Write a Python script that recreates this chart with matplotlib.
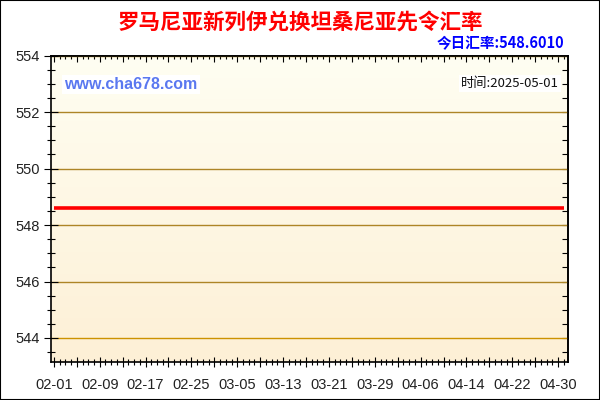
import numpy as np
import matplotlib
matplotlib.use('Agg')
import matplotlib.pyplot as plt
import matplotlib.dates as mdates
from matplotlib.patches import Rectangle

title = '罗马尼亚新列伊兑换坦桑尼亚先令汇率'
today_label = '今日汇率:548.6010'
time_label = '时间:2025-05-01'
site = 'www.cha678.com'

dates = ['2025-02-01', '2025-05-01']
rates = [548.6010, 548.6010]

tick_labels = ['02-01', '02-09', '02-17', '02-25', '03-05', '03-13',
               '03-21', '03-29', '04-06', '04-14', '04-22', '04-30']
y_ticks = [544, 546, 548, 550, 552, 554]

cjk = ['Noto Sans CJK SC', 'DejaVu Sans']
plt.rcParams['font.family'] = ['Liberation Sans', 'DejaVu Sans']

fig = plt.figure(figsize=(6, 4), dpi=100)
fig.patches.append(Rectangle((0, 0), 1, 1, transform=fig.transFigure,
                             fill=False, edgecolor='black', linewidth=1.5))
ax = fig.add_axes([0.0855, 0.095, 0.861, 0.766])

x = mdates.datestr2num(dates)
x0 = x[0]
xmin, xmax = x0 - 0.45, x0 + 89.7
ymin, ymax = 543.15, 554.0

# gradient background
grad = np.linspace(0, 1, 256).reshape(-1, 1)
top = np.array([255, 254, 242]) / 255
bot = np.array([253, 240, 214]) / 255
img = top + (bot - top) * grad[:, :, None]
ax.imshow(img, extent=[xmin, xmax, ymin, ymax], aspect='auto', origin='upper', zorder=0)

for yv in y_ticks:
    ax.axhline(yv, color='#ad8526' if yv != 544 else '#cc9200', lw=1, zorder=1)

ax.plot(x, rates, color='#ff0000', lw=2.6, zorder=3, solid_capstyle='butt')

ax.set_xlim(xmin, xmax)
ax.set_ylim(ymin, ymax)

# x ticks
major = [x0 + i for i in range(0, 90, 4)]
minor = [x0 + i for i in range(0, 90)]
lab_pos = list(mdates.datestr2num(['2025-' + t for t in tick_labels]))
ax.set_xticks(major)
ax.set_xticklabels([tick_labels[lab_pos.index(m)] if m in lab_pos else '' for m in major])
ax.set_xticks(minor, minor=True)
ax.set_yticks(y_ticks)
ax.set_yticks(np.arange(543.5, 554.01, 0.5), minor=True)

ax.tick_params(axis='x', which='major', direction='inout', length=7, width=0.8,
               labelsize=10.5, pad=8, labelcolor='#222222')
ax.tick_params(axis='x', which='minor', direction='inout', length=4, width=0.8)
ax.tick_params(axis='y', which='major', direction='inout', length=10, width=0.8,
               labelsize=10.5, pad=3, labelcolor='#222222')
ax.tick_params(axis='y', which='minor', direction='inout', length=6, width=0.8)

# inward ticks on top and right
topx = ax.secondary_xaxis('top')
topx.set_xticks(major)
topx.set_xticks(minor, minor=True)
topx.tick_params(which='major', direction='in', length=4, width=0.8, labeltop=False)
topx.tick_params(which='minor', direction='in', length=2, width=0.8)
rightx = ax.secondary_yaxis('right')
rightx.set_yticks(np.arange(543.5, 554.01, 0.5))
rightx.tick_params(direction='in', length=4, width=0.8, labelright=False)
rightx.tick_params(which='minor', length=0)

for a in (ax, topx, rightx):
    for s in a.spines.values():
        s.set_linewidth(1.2)
        s.set_zorder(5)

fig.text(0.5, 0.945, title, ha='center', va='center', color='#ff0000',
         fontsize=15.5, fontweight='bold', family=cjk)
fig.text(0.94, 0.893, today_label, ha='right', va='center', color='#0000ff',
         fontsize=10.5, fontweight='bold', family=cjk)
ax.text(0.025, 0.905, site, transform=ax.transAxes, ha='left', va='center',
        color='#5a78f0', fontsize=11.5, fontweight='bold',
        bbox=dict(facecolor='white', edgecolor='none', pad=1.5))
ax.text(0.982, 0.91, time_label, transform=ax.transAxes, ha='right', va='center',
        color='#111111', fontsize=9.5, family=cjk,
        bbox=dict(facecolor='white', edgecolor='none', pad=1.5))

fig.savefig('out.png', dpi=100)
